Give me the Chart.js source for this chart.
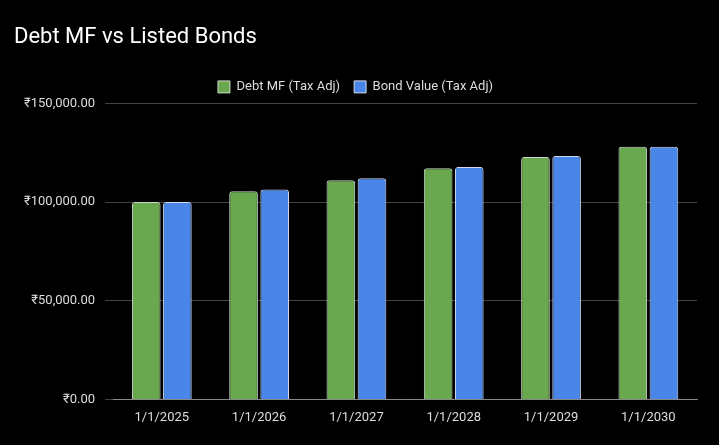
<!DOCTYPE html>
<html><head><meta charset="utf-8">
<script src="https://cdn.jsdelivr.net/npm/chart.js@4"></script>
<style>html,body{margin:0;background:#000;}#w{width:719px;height:445px;}</style>
</head><body><div id="w"><canvas id="c"></canvas></div>
<script>
const categories=["1/1/2025","1/1/2026","1/1/2027","1/1/2028","1/1/2029","1/1/2030"];
const debtMF=[100000,105500,111100,117200,122900,128000];
const bondValue=[100000,106400,112100,117800,123400,128000];
const yTicks=[0,50000,100000,150000];
new Chart(document.getElementById('c'),{type:'bar',
data:{labels:categories,datasets:[
{label:'Debt MF (Tax Adj)',data:debtMF,backgroundColor:'#6aa84f',borderColor:'#cfd8cf',borderWidth:1,borderRadius:3,borderSkipped:'bottom'},
{label:'Bond Value (Tax Adj)',data:bondValue,backgroundColor:'#4a86e8',borderColor:'#cfd8e8',borderWidth:1,borderRadius:3,borderSkipped:'bottom'}]},
options:{responsive:true,maintainAspectRatio:false,animation:false,
layout:{padding:{left:14,right:22,top:10,bottom:16}},
datasets:{bar:{categoryPercentage:0.64,barPercentage:0.92}},
plugins:{title:{display:true,text:'Debt MF vs Listed Bonds',align:'start',color:'#fff',font:{family:'Roboto',size:22,weight:'normal'},padding:{top:14,bottom:16}},
legend:{labels:{color:'#ddd',boxWidth:12,boxHeight:12,padding:14,font:{family:'Roboto',size:13}}}},
scales:{x:{grid:{display:false},border:{color:'#888'},ticks:{color:'#ddd',font:{family:'Roboto',size:13}}},
y:{min:0,max:150000,afterBuildTicks:a=>{a.ticks=yTicks.map(v=>({value:v}));},grid:{color:'#444'},border:{display:false},
ticks:{color:'#ddd',font:{family:'Roboto',size:13},padding:10,callback:v=>'₹'+Number(v).toLocaleString('en-US',{minimumFractionDigits:2})}}}}});
</script></body></html>
